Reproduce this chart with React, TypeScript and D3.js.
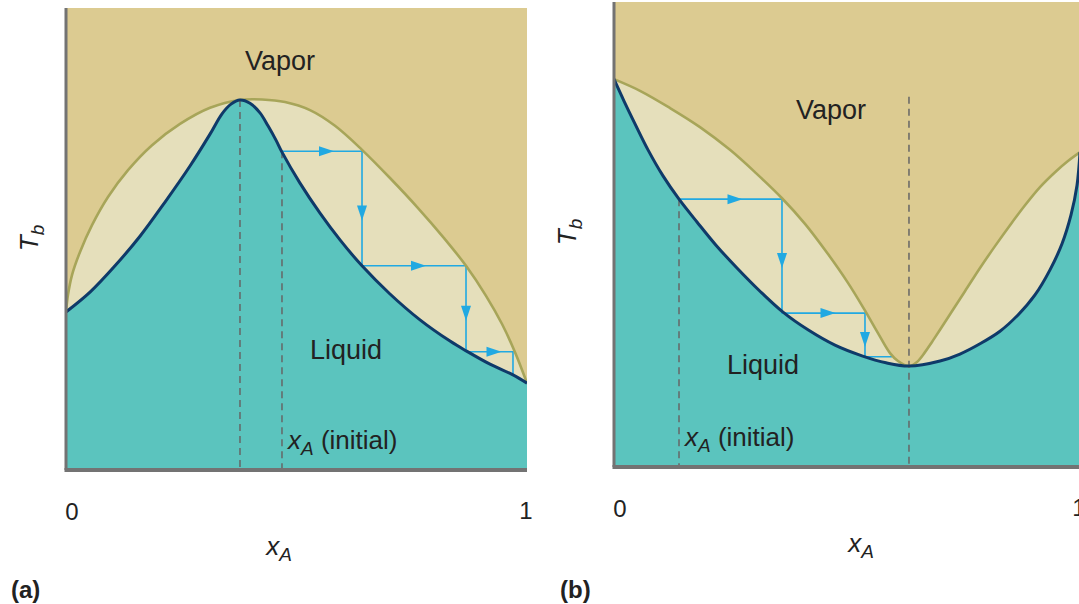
import React from 'react';
import * as d3 from 'd3';

type Pt = [number, number];

// ---------- Panel (a): maximum-boiling azeotrope (x_A, T in 0..100) ----------
const vaporA: Pt[] = [
  [0, 34.2], [0.0043, 37.9], [0.013, 42.2], [0.0304, 47.2], [0.0564, 53.0], [0.0911, 59.1],
  [0.1345, 64.9], [0.1866, 70.3], [0.2473, 74.9], [0.3124, 78.4], [0.3774, 80.1], [0.4252, 80.2],
  [0.4751, 79.65], [0.5293, 77.9], [0.5835, 74.5], [0.6421, 69.3], [0.7028, 63.2], [0.7636, 56.7],
  [0.82, 50.2], [0.8677, 44.2], [0.9111, 37.7], [0.9458, 31.6], [0.974, 25.5], [1, 18.8],
];
const liquidA: Pt[] = [
  [0, 34.2], [0.0521, 38.5], [0.1063, 44.2], [0.1605, 50.6], [0.2148, 58.0], [0.269, 65.8],
  [0.3124, 72.7], [0.3384, 77.1], [0.3579, 79.2], [0.3774, 80.1], [0.3991, 79.4], [0.4208, 77.3],
  [0.4382, 74.5], [0.4555, 71.4], [0.4685, 68.8], [0.5076, 62.1], [0.551, 55.6], [0.5944, 49.8],
  [0.6421, 44.2], [0.7028, 38.1], [0.7679, 32.5], [0.833, 27.9], [0.8677, 25.8], [0.9197, 22.9],
  [0.9696, 20.6], [1, 18.8],
];
const stairsA: Pt[] = [
  [0.4685, 69.0], [0.6421, 69.0], [0.6421, 44.2], [0.8677, 44.2], [0.8677, 25.6], [0.9696, 25.6], [0.9696, 20.6],
];
const azeoA: Pt = [0.3774, 80.1];
const initialA: Pt = [0.4685, 69.0];

// ---------- Panel (b): minimum-boiling azeotrope ----------
const vaporB: Pt[] = [
  [0, 83.4], [0.0558, 80.9], [0.1202, 77.2], [0.1845, 73.1], [0.2489, 68.2], [0.3047, 63.2],
  [0.3605, 57.8], [0.4099, 52.3], [0.4592, 45.8], [0.5021, 39.6], [0.5365, 34.0], [0.5665, 28.8],
  [0.5923, 24.5], [0.6094, 22.8], [0.633, 21.7], [0.6502, 22.6], [0.6674, 24.7], [0.6824, 26.9],
  [0.6996, 29.5], [0.7253, 33.5], [0.7532, 37.8], [0.7854, 42.8], [0.8176, 47.5], [0.8498, 52.0],
  [0.882, 56.3], [0.9142, 60.2], [0.9464, 63.4], [0.9742, 65.8], [1, 67.7],
];
const liquidB: Pt[] = [
  [0, 83.4], [0.0215, 78.7], [0.0451, 73.8], [0.073, 68.2], [0.1052, 62.6], [0.1395, 57.6],
  [0.1781, 52.7], [0.2189, 47.7], [0.2639, 42.8], [0.3133, 37.8], [0.3627, 33.3], [0.4163, 29.5],
  [0.4742, 26.2], [0.5322, 23.9], [0.5837, 22.4], [0.633, 21.7], [0.6996, 22.8], [0.7425, 24.3],
  [0.7854, 26.5], [0.8283, 29.2], [0.867, 32.7], [0.9034, 37.0], [0.9356, 42.4], [0.9614, 48.0],
  [0.9807, 54.2], [0.9936, 60.6], [1, 67.7],
];
const stairsB: Pt[] = [
  [0.1395, 57.6], [0.3605, 57.6], [0.3605, 33.1], [0.5386, 33.1], [0.5386, 23.7], [0.5966, 23.7],
];
const azeoB: Pt = [0.633, 79.6];
const initialB: Pt = [0.1395, 57.6];

const tickLabels = ['0', '1'];

const C = {
  vapor: '#dccb91',
  twoPhase: '#e5dfbb',
  liquid: '#5bc4be',
  dew: '#a7a559',
  bubble: '#0f3a69',
  step: '#21a9e2',
  dash: '#666666',
  axis: '#737373',
  text: '#222222',
};
const FONT = '"Liberation Sans", Arial, Helvetica, sans-serif';

interface PanelProps {
  x0: number; x1: number; top: number; bottom: number;
  vapor: Pt[]; liquid: Pt[]; stairs: Pt[]; azeo: Pt; initial: Pt;
  letter: string; letterX: number; axisLblX: number;
  vaporLbl: [number, number]; liquidLbl: [number, number]; initLbl: [number, number];
  tbX: number; tbY: number;
}

function Panel(p: PanelProps) {
  const x = d3.scaleLinear().domain([0, 1]).range([p.x0, p.x1]);
  const y = d3.scaleLinear().domain([0, 100]).range([p.bottom, p.top]);
  const curve = d3.curveCatmullRom.alpha(0.5);
  const line = d3.line<Pt>().x(d => x(d[0])).y(d => y(d[1])).curve(curve);
  const area = d3.area<Pt>().x(d => x(d[0])).y0(y(0)).y1(d => y(d[1])).curve(curve);
  const clipId = 'clip' + p.letter;

  const segs: { a: Pt; b: Pt; arrow: boolean }[] = [];
  for (let i = 0; i < p.stairs.length - 1; i++) {
    segs.push({ a: p.stairs[i], b: p.stairs[i + 1], arrow: i < p.stairs.length - 2 });
  }
  const stairPath = d3.line<Pt>().x(d => x(d[0])).y(d => y(d[1]))(p.stairs) || '';

  const arrows = segs.filter(s => s.arrow).map((s, i) => {
    const ax = x(s.a[0]), ay = y(s.a[1]), bx = x(s.b[0]), by = y(s.b[1]);
    const len = Math.hypot(bx - ax, by - ay);
    const dx = (bx - ax) / len, dy = (by - ay) / len;
    const nx = -dy, ny = dx;
    const cx = (ax + bx) / 2 + dx * 4, cy = (ay + by) / 2 + dy * 4;
    const tip = [cx + dx * 8, cy + dy * 8];
    const b1 = [cx - dx * 7 + nx * 5, cy - dy * 7 + ny * 5];
    const b2 = [cx - dx * 7 - nx * 5, cy - dy * 7 - ny * 5];
    return <path key={i} d={`M${tip}L${b1}L${b2}Z`} fill={C.step} />;
  });

  return (
    <g>
      <defs>
        <clipPath id={clipId}>
          <rect x={p.x0} y={p.top} width={p.x1 - p.x0} height={p.bottom - p.top} />
        </clipPath>
      </defs>
      <g clipPath={`url(#${clipId})`}>
        <rect x={p.x0} y={p.top} width={p.x1 - p.x0} height={p.bottom - p.top} fill={C.vapor} />
        <path d={area(p.vapor) || ''} fill={C.twoPhase} />
        <path d={area(p.liquid) || ''} fill={C.liquid} />
        <line x1={x(p.azeo[0])} x2={x(p.azeo[0])} y1={y(p.azeo[1])} y2={y(0)}
          stroke={C.dash} strokeWidth={1.5} strokeDasharray="7,5" />
        <line x1={x(p.initial[0])} x2={x(p.initial[0])} y1={y(p.initial[1])} y2={y(0)}
          stroke={C.dash} strokeWidth={1.5} strokeDasharray="7,5" />
        <path d={stairPath} fill="none" stroke={C.step} strokeWidth={1.6} />
        {arrows}
        <path d={line(p.vapor) || ''} fill="none" stroke={C.dew} strokeWidth={2.6} />
        <path d={line(p.liquid) || ''} fill="none" stroke={C.bubble} strokeWidth={3} />
      </g>
      <line x1={p.x0} x2={p.x0} y1={p.top} y2={p.bottom} stroke={C.axis} strokeWidth={3} />
      <line x1={p.x0 - 1.5} x2={p.x1} y1={p.bottom} y2={p.bottom} stroke={C.axis} strokeWidth={4} />

      <g fontFamily={FONT} fill={C.text}>
        <text x={p.vaporLbl[0]} y={p.vaporLbl[1]} fontSize={27} textAnchor="middle">Vapor</text>
        <text x={p.liquidLbl[0]} y={p.liquidLbl[1]} fontSize={27} textAnchor="middle">Liquid</text>
        <text x={p.initLbl[0]} y={p.initLbl[1]} fontSize={26}>
          <tspan fontStyle="italic">x</tspan>
          <tspan fontStyle="italic" fontSize={19} dy={6}>A</tspan>
          <tspan dy={-6}> (initial)</tspan>
        </text>
        <text x={x(0) + 6} y={y(0) + 50} fontSize={24} textAnchor="middle">{tickLabels[0]}</text>
        <text x={x(1) - 1} y={y(0) + 49} fontSize={24} textAnchor="middle">{tickLabels[1]}</text>
        <text x={p.axisLblX} y={y(0) + 85} fontSize={26} textAnchor="middle">
          <tspan fontStyle="italic">x</tspan>
          <tspan fontStyle="italic" fontSize={19} dy={6}>A</tspan>
        </text>
        <text transform={`translate(${p.tbX},${p.tbY}) rotate(-90)`} fontSize={26} textAnchor="middle">
          <tspan fontStyle="italic">T</tspan>
          <tspan fontStyle="italic" fontSize={19} dy={6}>b</tspan>
        </text>
        <text x={p.letterX} y={598} fontSize={24} fontWeight="bold">({p.letter})</text>
      </g>
    </g>
  );
}

export default function App() {
  return (
    <svg width={1079} height={604} style={{ position: 'absolute', left: 0, top: 0, background: '#fff' }}>
      <rect width={1079} height={604} fill="#ffffff" />
      <Panel x0={66} x1={527} top={8} bottom={470}
        vapor={vaporA} liquid={liquidA} stairs={stairsA} azeo={azeoA} initial={initialA}
        letter="a" letterX={11} axisLblX={279}
        vaporLbl={[280, 70]} liquidLbl={[346, 359]} initLbl={[288, 449]}
        tbX={38} tbY={238} />
      <Panel x0={614} x1={1080} top={2} bottom={467}
        vapor={vaporB} liquid={liquidB} stairs={stairsB} azeo={azeoB} initial={initialB}
        letter="b" letterX={560} axisLblX={861}
        vaporLbl={[831, 119]} liquidLbl={[763, 374]} initLbl={[685, 446]}
        tbX={576} tbY={232} />
    </svg>
  );
}
